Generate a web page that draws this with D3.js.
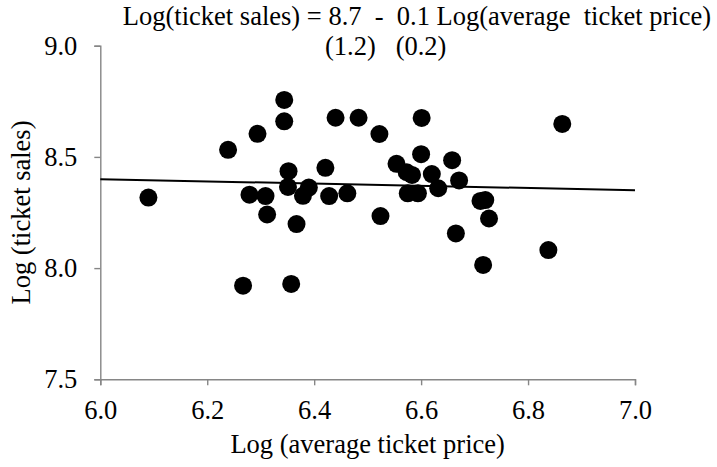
<!DOCTYPE html>
<html>
<head>
<meta charset="utf-8">
<script src="https://cdn.jsdelivr.net/npm/d3@7"></script>
<style>
  html, body { margin: 0; padding: 0; background: #fff; }
  svg { display: block; }
  text { font-family: "Liberation Serif", "Times New Roman", serif; fill: #000; }
</style>
</head>
<body>
<svg id="chart" width="717" height="467"></svg>
<script>
// Log of average ticket price (x) and log of ticket sales (y), one entry per observation
const logPrice = [
  6.090, 6.239, 6.294, 6.344, 6.344, 6.440, 6.483, 6.522, 6.554, 6.573,
  6.583, 6.352, 6.421, 6.279, 6.309, 6.351, 6.390, 6.379, 6.428, 6.462,
  6.312, 6.367, 6.524, 6.267, 6.357, 6.601, 6.864, 6.600, 6.658, 6.620,
  6.671, 6.632, 6.575, 6.594, 6.711, 6.720, 6.727, 6.665, 6.716, 6.838
];
const logSales = [
  8.317, 8.532, 8.604, 8.756, 8.660, 8.676, 8.676, 8.603, 8.469, 8.431,
  8.419, 8.436, 8.451, 8.330, 8.324, 8.365, 8.362, 8.325, 8.324, 8.336,
  8.241, 8.198, 8.234, 7.921, 7.929, 8.675, 8.648, 8.512, 8.485, 8.423,
  8.394, 8.359, 8.336, 8.336, 8.302, 8.306, 8.223, 8.156, 8.014, 8.081
];

// Fitted regression: intercept, slope and their standard errors
const fitIntercept = 8.70;
const fitSlope = -0.05;
const fitStdErr = [1.2, 0.2];

// Axis tick values
const xTicks = [6.0, 6.2, 6.4, 6.6, 6.8, 7.0];
const yTicks = [7.5, 8.0, 8.5, 9.0];
const xDomain = [6.0, 7.0];
const yDomain = [7.5, 9.0];

const svg = d3.select("#chart");
const margin = { left: 100.3, top: 45.7, right: 82, bottom: 87.7 };
const W = 717, H = 467;
const innerW = W - margin.left - margin.right;
const innerH = H - margin.top - margin.bottom;
const fontSize = 26.5;
const axisColor = "#868686";

const x = d3.scaleLinear().domain(xDomain).range([margin.left, margin.left + innerW]);
const y = d3.scaleLinear().domain(yDomain).range([margin.top + innerH, margin.top]);

// X axis
const xAxis = svg.append("g")
  .attr("transform", `translate(0,${margin.top + innerH})`)
  .call(d3.axisBottom(x).tickValues(xTicks).tickSize(6).tickPadding(15)
    .tickFormat(d => d.toFixed(1)));
xAxis.select(".domain").attr("stroke", axisColor).attr("stroke-width", 1.4);
xAxis.selectAll(".tick line").attr("stroke", axisColor).attr("stroke-width", 1.4);
xAxis.selectAll(".tick text").attr("font-size", fontSize)
  .style("font-family", '"Liberation Serif", "Times New Roman", serif').attr("fill", "#000");

// Y axis
const yAxis = svg.append("g")
  .attr("transform", `translate(${margin.left},0)`)
  .call(d3.axisLeft(y).tickValues(yTicks).tickSize(6).tickPadding(17)
    .tickFormat(d => d.toFixed(1)));
yAxis.select(".domain").attr("stroke", axisColor).attr("stroke-width", 1.4);
yAxis.selectAll(".tick line").attr("stroke", axisColor).attr("stroke-width", 1.4);
yAxis.selectAll(".tick text").attr("font-size", fontSize)
  .style("font-family", '"Liberation Serif", "Times New Roman", serif').attr("fill", "#000");

// Data points
svg.append("g")
  .selectAll("circle")
  .data(logPrice.map((p, i) => ({ p, s: logSales[i] })))
  .join("circle")
  .attr("cx", d => x(d.p))
  .attr("cy", d => y(d.s))
  .attr("r", 9)
  .attr("fill", "#000");

// Regression line across the x domain
const fitLine = xDomain.map(v => ({ p: v, s: fitIntercept + fitSlope * v }));
svg.append("path")
  .datum(fitLine)
  .attr("fill", "none")
  .attr("stroke", "#000")
  .attr("stroke-width", 2)
  .attr("d", d3.line().x(d => x(d.p)).y(d => y(d.s)));

// Equation text
const sign = fitSlope < 0 ? "-" : "+";
svg.append("text")
  .attr("x", 711)
  .attr("y", 25)
  .attr("text-anchor", "end")
  .attr("font-size", fontSize)
  .style("white-space", "pre")
  .text(`Log(ticket sales) = ${fitIntercept.toFixed(1)}  ${sign}  ${Math.abs(fitSlope).toFixed(1)} Log(average  ticket price)`);

svg.append("text")
  .attr("x", 325)
  .attr("y", 55)
  .attr("font-size", fontSize)
  .style("white-space", "pre")
  .text(`(${fitStdErr[0].toFixed(1)})   (${fitStdErr[1].toFixed(1)})`);

// Axis titles
svg.append("text")
  .attr("x", margin.left + innerW / 2)
  .attr("y", 453)
  .attr("text-anchor", "middle")
  .attr("font-size", fontSize)
  .text("Log (average ticket price)");

svg.append("text")
  .attr("transform", `translate(30,${margin.top + innerH / 2}) rotate(-90)`)
  .attr("text-anchor", "middle")
  .attr("font-size", fontSize)
  .text("Log (ticket sales)");
</script>
</body>
</html>
